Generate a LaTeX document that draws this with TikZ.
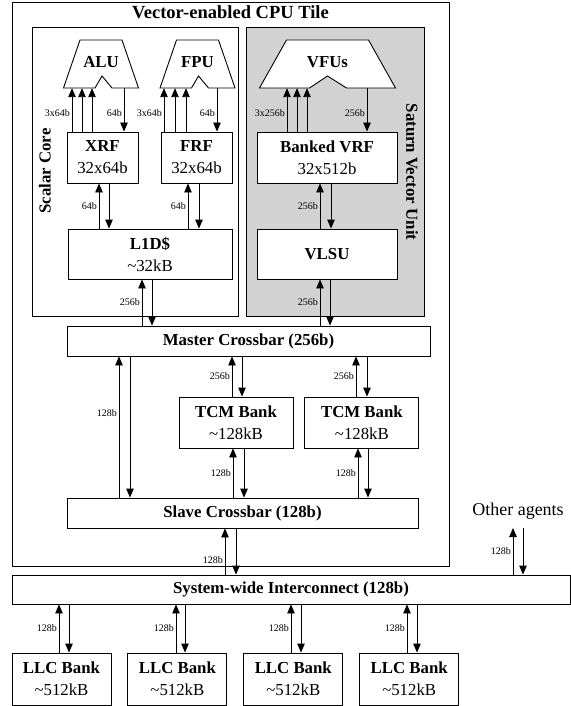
\documentclass[tikz,border=0pt]{standalone}
\usepackage{fontspec}
\setmainfont{Liberation Serif}
\usepackage{tikz}
\usetikzlibrary{arrows.meta, positioning}
\tikzset{
  unit/.style = {
    rectangle, draw=black, line width=0.9pt, fill=white,
    align=center, inner sep=0pt, font=\fontsize{16.8}{22}\selectfont
  },
  group/.style = {rectangle, draw=black, line width=0.9pt, inner sep=0pt},
  grouplabel/.style = {font=\fontsize{16.8}{18}\selectfont\bfseries, inner sep=0pt},
  fushape/.style = {draw=black, line width=0.9pt, fill=white},
  fulabel/.style = {font=\fontsize{16.8}{18}\selectfont\bfseries, inner sep=0pt},
  plain/.style = {font=\fontsize{18}{20}\selectfont, inner sep=0pt},
  lbl/.style = {font=\fontsize{10}{11}\selectfont, inner sep=1.8pt},
  arr/.style = {-{Triangle[length=9pt,width=7.5pt]}, line width=0.9pt}
}
% up arrow (with label) from lower to upper node, down arrow beside it
\newcommand{\linkpair}[6][pos=0.5]{%
  \draw[arr] (#4,0 |- #2.north) -- node[lbl,left,#1]{#6} (#4,0 |- #3.south);
  \draw[arr] (#5,0 |- #3.south) -- (#5,0 |- #2.north);
}

\begin{document}
\begin{tikzpicture}[x=1pt, y=-1pt]
  \useasboundingbox (0,0) rectangle (570,706);
  % CPU tile and its two parts
  \node[group, minimum width=437pt, minimum height=564pt] (tile) at (230.5,284) {};
  \node[grouplabel, font=\fontsize{18.5}{20}\selectfont\bfseries, below=4pt of tile.north]
    (tiletitle) {Vector-enabled CPU Tile};
  \node[group, minimum width=206pt, minimum height=289pt] (scalar) at (135,171.5) {};
  \node[grouplabel, rotate=90] (scalartitle) at (45,171) {Scalar Core};
  \node[group, fill=gray!35, minimum width=178pt, minimum height=289pt] (saturn) at (335,171.5) {};
  \node[grouplabel, rotate=-90] (saturntitle) at (412,172) {Saturn Vector Unit};

  % Functional units
  \coordinate (alupos) at (101,62);
  \coordinate (fpupos) at (197.5,62);
  \coordinate (vfupos) at (327.5,62);
  \draw[fushape, shift={(alupos)}] (-21,-22) -- (21,-22) -- (37.5,26) -- (11,26)
    -- (1,14) -- (-6,26) -- (-37.5,26) -- cycle;
  \draw[fushape, shift={(fpupos)}] (-21,-22) -- (21,-22) -- (37.5,26) -- (11,26)
    -- (1,14) -- (-6,26) -- (-37.5,26) -- cycle;
  \draw[fushape, shift={(vfupos)}] (-41,-22) -- (41,-22) -- (68,26) -- (19,26)
    -- (0,14) -- (-18,26) -- (-68,26) -- cycle;
  \node[fulabel, minimum width=75pt, minimum height=52pt] (alu) at (alupos) {ALU};
  \node[fulabel, minimum width=75pt, minimum height=52pt] (fpu) at (fpupos) {FPU};
  \node[fulabel, minimum width=136pt, minimum height=52pt] (vfu) at (vfupos) {VFUs};

  % Register files and memories
  \node[unit, minimum width=71pt, minimum height=51pt] (xrf) at (102.5,157.5)
    {\textbf{XRF}\\32x64b};
  \node[unit, minimum width=71pt, minimum height=51pt] (frf) at (196.5,157.5)
    {\textbf{FRF}\\32x64b};
  \node[unit, minimum width=140pt, minimum height=51pt] (vrf) at (327,157.5)
    {\textbf{Banked VRF}\\32x512b};
  \node[unit, minimum width=164pt, minimum height=50pt] (l1d) at (150,254)
    {\textbf{L1D\$}\\\textasciitilde32kB};
  \node[unit, minimum width=140pt, minimum height=50pt, font=\fontsize{16.8}{18}\selectfont\bfseries]
    (vlsu) at (327,254) {VLSU};

  % Crossbars and TCM
  \node[unit, font=\fontsize{16.8}{18}\selectfont\bfseries, minimum width=363pt, minimum height=30pt]
    (master) at (248.5,341) {Master Crossbar (256b)};
  \node[unit, minimum width=114pt, minimum height=51pt] (tcma) at (236,422.5)
    {\textbf{TCM Bank}\\\textasciitilde128kB};
  \node[unit, minimum width=114pt, minimum height=51pt, right=11pt of tcma] (tcmb)
    {\textbf{TCM Bank}\\\textasciitilde128kB};
  \node[unit, font=\fontsize{16.8}{18}\selectfont\bfseries, minimum width=351pt, minimum height=30pt]
    (slave) at (242.5,513) {Slave Crossbar (128b)};

  % System level
  \node[unit, font=\fontsize{16.8}{18}\selectfont\bfseries, minimum width=558pt, minimum height=29pt]
    (sys) at (291,589.5) {System-wide Interconnect (128b)};
  \coordinate (agents) at (518,528);
  \node[plain, above=8pt of agents] (others) {Other agents};
  \node[unit, minimum width=99pt, minimum height=52pt] (llc1) at (61.5,679)
    {\textbf{LLC Bank}\\\textasciitilde512kB};
  \foreach \i [remember=\i as \j (initially 1)] in {2,3,4}
    \node[unit, minimum width=99pt, minimum height=52pt, right=16pt of llc\j] (llc\i)
      {\textbf{LLC Bank}\\\textasciitilde512kB};

  % Arrows: functional units
  \draw[arr] (72,0 |- xrf.north) -- node[lbl,left,pos=0.43]{3x64b} (72,0 |- alu.south);
  \foreach \x in {82,92}
    \draw[arr] (\x,0 |- xrf.north) -- (\x,0 |- alu.south);
  \draw[arr] (124,0 |- alu.south) -- node[lbl,left,pos=0.57]{64b} (124,0 |- xrf.north);
  \draw[arr] (164,0 |- frf.north) -- node[lbl,left,pos=0.43]{3x64b} (164,0 |- fpu.south);
  \foreach \x in {175,186}
    \draw[arr] (\x,0 |- frf.north) -- (\x,0 |- fpu.south);
  \draw[arr] (217,0 |- fpu.south) -- node[lbl,left,pos=0.57]{64b} (217,0 |- frf.north);
  \draw[arr] (287,0 |- vrf.north) -- node[lbl,left,pos=0.43]{3x256b} (287,0 |- vfu.south);
  \foreach \x in {297,307}
    \draw[arr] (\x,0 |- vrf.north) -- (\x,0 |- vfu.south);
  \draw[arr] (367,0 |- vfu.south) -- node[lbl,left,pos=0.57]{256b} (367,0 |- vrf.north);

  % Arrows: memories and crossbars
  \linkpair{l1d}{xrf}{99}{109}{64b}
  \linkpair{l1d}{frf}{188}{199}{64b}
  \linkpair{vlsu}{vrf}{320}{331}{256b}
  \linkpair{master}{l1d}{142}{152}{256b}
  \linkpair{master}{vlsu}{320}{330}{256b}
  \linkpair{tcma}{master}{232}{242}{256b}
  \linkpair{tcmb}{master}{356}{367}{256b}
  \linkpair{slave}{tcma}{233}{244}{128b}
  \linkpair{slave}{tcmb}{358}{368}{128b}
  \linkpair[pos=0.6]{slave}{master}{119}{130}{128b}
  \linkpair[pos=0.32]{sys}{slave}{225}{236}{128b}

  % Arrows: system level
  \draw[arr] (513,0 |- sys.north) -- node[lbl,left]{128b} (513,0 |- agents);
  \draw[arr] (523,0 |- agents) -- (523,0 |- sys.north);
  \foreach \i/\xu/\xd in {1/59/69, 2/176/185, 3/291/301, 4/407/417}
    {\linkpair{llc\i}{sys}{\xu}{\xd}{128b}}
\end{tikzpicture}
\end{document}
